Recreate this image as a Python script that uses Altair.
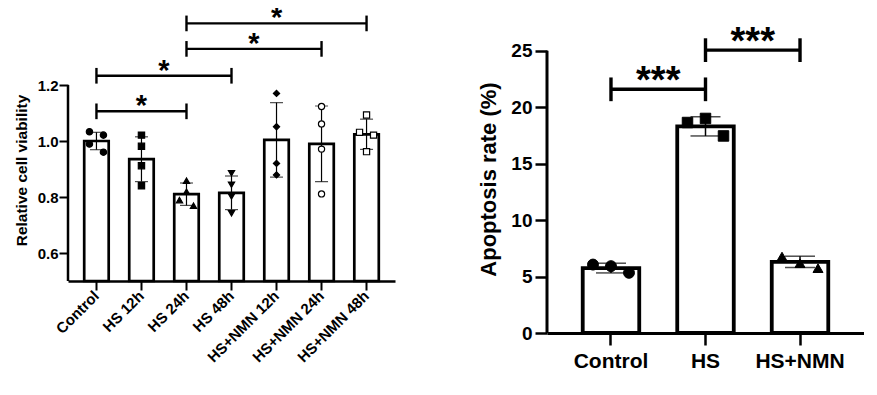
import altair as alt
import pandas as pd

FONT = "Liberation Sans"

# ---------------- Left panel: relative cell viability ----------------
groups_l = ["Control", "HS 12h", "HS 24h", "HS 48h", "HS+NMN 12h", "HS+NMN 24h", "HS+NMN 48h"]
mean_l = [1.000, 0.935, 0.810, 0.815, 1.004, 0.990, 1.024]
sd_l = [0.031, 0.080, 0.040, 0.060, 0.133, 0.135, 0.054]
pts_l = [
    [1.033, 1.021, 0.989, 0.960],
    [1.021, 0.981, 0.912, 0.840],
    [0.858, 0.819, 0.789, 0.769],
    [0.885, 0.844, 0.802, 0.742],
    [1.170, 1.051, 0.920, 0.879],
    [1.123, 1.061, 0.971, 0.811],
    [1.093, 1.031, 1.021, 0.962],
]
side_l = [
    [-1, 1, -1, 1],
    [0, 0, 0, 0],
    [0, 0, -1, 1],
    [0, 0, 0, 0],
    [0, 0, 0, 0],
    [0, 0, 0, 0],
    [0, -1, 1, 0],
]
shapes_l = ["circle", "square", "triangle-up", "triangle-down", "diamond", "circle", "square"]
fills_l = ["black", "black", "black", "black", "black", "white", "white"]
sizes_l = [40, 38, 48, 48, 24, 36, 42]
yticks_l = [0.6, 0.8, 1.0, 1.2]
br_l_from = ["Control", "Control", "HS 24h", "HS 24h"]
br_l_to = ["HS 24h", "HS 48h", "HS+NMN 24h", "HS+NMN 48h"]
br_l_level = [1.106, 1.233, 1.329, 1.420]
br_l_label = ["*", "*", "*", "*"]

# ---------------- Right panel: apoptosis rate ----------------
groups_r = ["Control", "HS", "HS+NMN"]
mean_r = [5.75, 18.30, 6.30]
sd_r = [0.43, 0.85, 0.50]
pts_r = [[6.06, 5.92, 5.33], [18.64, 19.00, 17.45], [6.77, 6.18, 5.74]]
side_r = [[-1, 0, 1], [-1, 0, 1], [-1, 0, 1]]
shapes_r = ["circle", "square", "triangle-up"]
fills_r = ["black", "black", "black"]
sizes_r = [120, 100, 130]
yticks_r = [0, 5, 10, 15, 20, 25]
br_r_from = ["Control", "HS"]
br_r_to = ["HS", "HS+NMN"]
br_r_level = [21.58, 25.05]
br_r_label = ["***", "***"]

# ---------------- layout / style constants ----------------
W_L, H_L = 327, 274
W_R, H_R = 317, 326
YMIN_L, YAX_L, YTOP_L = 0.5, 1.2, 1.4786
YMIN_R, YAX_R, YTOP_R = 0, 25, 28.87
PI_L, PO_L = 0.456, 0.36
PI_R, PO_R = 0.402, 0.378


def tables(groups, means, sds, pts, sides, br_from, br_to, br_level, br_label, half_h, jit_idx):
    bars = pd.DataFrame({"group": groups, "mean": means, "sd": sds})
    bars["lo"] = bars["mean"] - bars["sd"]
    bars["hi"] = bars["mean"] + bars["sd"]
    caps = pd.concat([
        bars[["group"]].assign(cap=bars["lo"]),
        bars[["group"]].assign(cap=bars["hi"]),
    ])
    prow = []
    for i, (g, vals, ss) in enumerate(zip(groups, pts, sides)):
        for v, s in zip(vals, ss):
            prow.append({"group": g, "value": v, "pos": i + s * jit_idx})
    points = pd.DataFrame(prow)
    br = pd.DataFrame({"from": br_from, "to": br_to, "level": br_level, "label": br_label})
    ends = pd.concat([
        br.assign(end=br["from"]),
        br.assign(end=br["to"]),
    ])
    ends["lo"] = ends["level"] - half_h
    ends["hi"] = ends["level"] + half_h
    idx = {g: i for i, g in enumerate(groups)}
    mids = []
    for f, t, lv, lb in zip(br_from, br_to, br_level, br_label):
        mids.append({"pos": (idx[f] + idx[t]) / 2, "level": lv, "label": lb})
    stars = pd.DataFrame(mids)
    return bars, caps, points, ends, br, stars


def panel(groups, means, sds, pts, sides, shapes, fills, sizes, yticks,
          br_from, br_to, br_level, br_label, half_h,
          W, H, ymin, yax, ytop, pi, po, s):
    n = len(groups)
    step = W / (n - pi + 2 * po)
    # continuous "index" scale that lines up with the band scale centres
    d0 = -(po + (1 - pi) / 2)
    d1 = d0 + W / step
    bars, caps, points, ends, br, stars = tables(
        groups, means, sds, pts, sides, br_from, br_to, br_level, br_label, half_h,
        s["jit"] / step)

    xscale = alt.Scale(domain=groups, paddingInner=pi, paddingOuter=po)
    xaxis = alt.Axis(title=None, labelAngle=s["xangle"], labelFontSize=s["xfs"],
                     labelAlign=s["xalign"], labelBaseline=s["xbase"],
                     labelPadding=s["xlabpad"], tickSize=s["xtick"], tickWidth=s["tickw"],
                     domainWidth=s["domw"], labelLimit=300)
    qscale = alt.Scale(domain=[d0, d1], nice=False, zero=False)
    yscale = alt.Scale(domain=[ymin, ytop], nice=False, zero=False)
    yaxis = alt.Axis(title=s["ytitle"], values=yticks, format=s["yfmt"], domain=False,
                     labelFontSize=s["yfs"], titleFontSize=s["ytfs"], tickSize=s["ytick"],
                     tickWidth=s["tickw"], labelPadding=s["ylabpad"], titlePadding=s["ytpad"],
                     titleY=s["titley"], grid=False)

    def X(f):
        return alt.X(f"{f}:N", scale=xscale, axis=xaxis, sort=groups)

    def XQ(f):
        return alt.X(f"{f}:Q", scale=qscale, axis=None)

    def Y(f):
        return alt.Y(f"{f}:Q", scale=yscale, axis=yaxis)

    base_b = alt.Chart(bars)
    bar = base_b.mark_bar(fill="white", stroke="black", strokeWidth=s["barw"]).encode(
        x=X("group"), y=Y("mean"), y2=alt.datum(ymin))
    err = base_b.mark_rule(color="black", strokeWidth=s["errw"]).encode(
        x=X("group"), y=Y("lo"), y2="hi")
    cap = alt.Chart(caps).mark_tick(color="black", thickness=s["errw"], size=s["capw"]).encode(
        x=X("group"), y=Y("cap"))
    hline = alt.Chart(br).mark_rule(color="black", strokeWidth=s["brw"]).encode(
        x=X("from"), x2="to", y=Y("level"))
    vline = alt.Chart(ends).mark_rule(color="black", strokeWidth=s["brw"]).encode(
        x=X("end"), y=Y("lo"), y2="hi")
    yline = alt.Chart(bars.head(1)).mark_rule(color="black", strokeWidth=s["domw"]).encode(
        x=alt.value(0), y=alt.datum(ymin), y2=alt.datum(yax))
    band_layer = alt.layer(bar, err, cap, hline, vline, yline)

    pt = alt.Chart(points).mark_point(opacity=1, fillOpacity=1, stroke="black",
                                      strokeWidth=s["ptw"]).encode(
        x=XQ("pos"),
        y=Y("value"),
        shape=alt.Shape("group:N", scale=alt.Scale(domain=groups, range=shapes), legend=None),
        fill=alt.Fill("group:N", scale=alt.Scale(domain=groups, range=fills), legend=None),
        size=alt.Size("group:N", scale=alt.Scale(domain=groups, range=sizes), legend=None),
    )
    txt = alt.Chart(stars).mark_text(
        font=FONT, fontWeight="bold", fontSize=s["starfs"], dy=s["stardy"], baseline="top",
        color="black").encode(
        x=XQ("pos"), y=Y("level"), text="label:N")
    q_layer = alt.layer(pt, txt)

    return alt.layer(band_layer, q_layer).resolve_scale(x="independent").properties(
        width=W, height=H)


style_l = dict(xangle=-45, xfs=15, xalign="right", xbase="middle", xlabpad=3, xtick=9,
               tickw=2, domw=2.5, ytitle="Relative cell viability", yfmt=".1f", yfs=15,
               ytfs=15.5, ytick=9, ylabpad=1, ytpad=8, titley=163, barw=2.7, errw=1.2,
               capw=13, ptw=1.2, jit=7, brw=2.4, starfs=29, stardy=-19)
style_r = dict(xangle=0, xfs=21, xalign="center", xbase="top", xlabpad=5, xtick=12,
               tickw=2.5, domw=3, ytitle="Apoptosis rate (%)", yfmt="d", yfs=19,
               ytfs=22, ytick=12, ylabpad=3, ytpad=10, titley=172, barw=3.8, errw=1.5,
               capw=30, ptw=1, jit=18, brw=3.4, starfs=38, stardy=-26)

left = panel(groups_l, mean_l, sd_l, pts_l, side_l, shapes_l, fills_l, sizes_l, yticks_l,
             br_l_from, br_l_to, br_l_level, br_l_label, 0.028,
             W_L, H_L, YMIN_L, YAX_L, YTOP_L, PI_L, PO_L, style_l)
right = panel(groups_r, mean_r, sd_r, pts_r, side_r, shapes_r, fills_r, sizes_r, yticks_r,
              br_r_from, br_r_to, br_r_level, br_r_label, 1.05,
              W_R, H_R, YMIN_R, YAX_R, YTOP_R, PI_R, PO_R, style_r)

chart = alt.hconcat(left, right, spacing=82).resolve_scale(
    shape="independent", fill="independent", size="independent"
).properties(
    padding={"left": 6, "top": -4, "right": 0, "bottom": 0}, background="white"
).configure_view(stroke=None).configure_axis(
    labelFont=FONT, titleFont=FONT, labelFontWeight="bold", titleFontWeight="bold",
    labelColor="black", titleColor="black", tickColor="black", domainColor="black"
)

chart.save("out.html", embed_options={"renderer": "svg", "actions": False})
